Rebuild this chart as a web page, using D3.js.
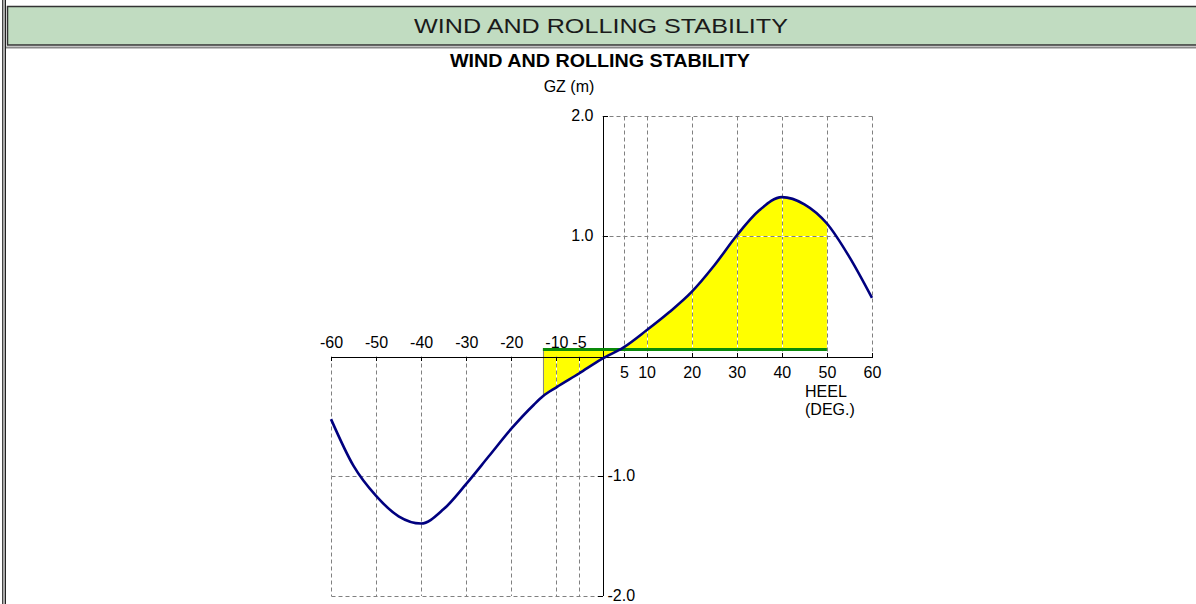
<!DOCTYPE html>
<html>
<head>
<meta charset="utf-8">
<script src="https://cdn.jsdelivr.net/npm/d3@7/dist/d3.min.js"></script>
<style>
  html, body { margin: 0; padding: 0; background: #ffffff; }
  svg { display: block; }
  text { font-family: "Liberation Sans", Arial, sans-serif; }
</style>
</head>
<body>
<svg id="chart" width="1196" height="604"></svg>
<script>
// Heel angles (deg) and righting lever GZ (m)
const heelAngles = [-60, -55, -50, -45, -40, -35, -30, -25, -20, -15, -13, -10, -5, 0, 5, 10, 15, 20, 25, 30, 35, 40, 45, 50, 55, 60];
const gzValues   = [-0.53, -0.92, -1.17, -1.34, -1.40, -1.28, -1.07, -0.84, -0.61, -0.41, -0.34, -0.265, -0.15, -0.03, 0.07, 0.21, 0.36, 0.53, 0.75, 1.00, 1.21, 1.32, 1.26, 1.10, 0.82, 0.48];

// Wind heeling lever and the heel range it acts over
const windLever = 0.05;
const windRange = [-13, 50];

// Axis ticks
const xTicksNeg = [-60, -50, -40, -30, -20, -10, -5];
const xTicksPos = [5, 10, 20, 30, 40, 50, 60];
const yTicksPos = [1, 2];
const yTicksNeg = [-1, -2];

const mainTitle = "WIND AND ROLLING STABILITY";
const chartTitle = "WIND AND ROLLING STABILITY";
const yAxisTitle = "GZ (m)";
const xAxisTitle = ["HEEL", "(DEG.)"];

const svg = d3.select("#chart");
const W = 1196, H = 604;

// ---- window frame and header band ----
svg.append("rect").attr("x", 2).attr("y", 0).attr("width", 4).attr("height", H).attr("fill", "#a9a9a9");
svg.append("line").attr("x1", 2.5).attr("x2", 2.5).attr("y1", 0).attr("y2", H).attr("stroke", "#444").attr("stroke-width", 1);
svg.append("line").attr("x1", 5.5).attr("x2", 5.5).attr("y1", 0).attr("y2", H).attr("stroke", "#222").attr("stroke-width", 1);
svg.append("rect").attr("x", 7.5).attr("y", 6.5).attr("width", W).attr("height", 38.5)
  .attr("fill", "#c1dcc1").attr("stroke", "#333").attr("stroke-width", 1.5);
svg.append("line").attr("x1", 6).attr("x2", W).attr("y1", 47.5).attr("y2", 47.5).attr("stroke", "#8a8a8a").attr("stroke-width", 2);
svg.append("text").attr("x", 601).attr("y", 33).attr("text-anchor", "middle")
  .attr("font-size", 21).attr("fill", "#1a1a1a")
  .attr("textLength", 374).attr("lengthAdjust", "spacingAndGlyphs")
  .text(mainTitle);

// ---- scales ----
const x = d3.scaleLinear().domain([-60, 60]).range([331, 872]);
const y = d3.scaleLinear().domain([-2, 2]).range([595.5, 115.5]);
const px = v => Math.round(x(v)) + 0.5;
const py = v => Math.round(y(v)) + 0.5;

const data = heelAngles.map((a, i) => ({ a, gz: gzValues[i] }));

// ---- wind/rolling energy area (between heeling lever and GZ curve) ----
const areaData = data.filter(d => d.a >= windRange[0] && d.a <= windRange[1]);
const area = d3.area()
  .x(d => x(d.a))
  .y0(() => y(windLever))
  .y1(d => y(d.gz))
  .curve(d3.curveMonotoneX);
svg.append("path").datum(areaData).attr("d", area).attr("fill", "#ffff00").attr("stroke", "none");

// left edge of the area
const startGz = gzValues[heelAngles.indexOf(windRange[0])];
svg.append("line")
  .attr("x1", px(windRange[0])).attr("x2", px(windRange[0]))
  .attr("y1", y(windLever)).attr("y2", y(startGz))
  .attr("stroke", "#888").attr("stroke-width", 1);

// ---- grid (dashes with white gaps) ----
const grid = svg.append("g");
function gridLine(x1, y1, x2, y2) {
  grid.append("line").attr("x1", x1).attr("y1", y1).attr("x2", x2).attr("y2", y2)
    .attr("stroke", "#ffffff").attr("stroke-width", 1);
  grid.append("line").attr("x1", x1).attr("y1", y1).attr("x2", x2).attr("y2", y2)
    .attr("stroke", "#808080").attr("stroke-width", 1).attr("stroke-dasharray", "4,3");
}
xTicksPos.forEach(v => gridLine(px(v), py(2), px(v), py(0)));
xTicksNeg.forEach(v => gridLine(px(v), py(0), px(v), py(-2)));
yTicksPos.forEach(v => gridLine(px(0), py(v), px(60), py(v)));
yTicksNeg.forEach(v => gridLine(px(-60), py(v), px(0), py(v)));

// ---- axes ----
const fontSize = 16;
function styleAxis(g) {
  g.attr("font-family", null).attr("font-size", null);
  g.selectAll("text").attr("font-size", fontSize).attr("fill", "#000")
    .attr("font-family", "'Liberation Sans', Arial, sans-serif");
  g.selectAll("line, path").attr("stroke", "#000").attr("shape-rendering", "crispEdges");
}

const xAxisNeg = d3.axisTop(x).tickValues(xTicksNeg).tickFormat(d => String(d))
  .tickSizeInner(-4).tickSizeOuter(0).tickPadding(9);
const xAxisPos = d3.axisBottom(x).tickValues(xTicksPos).tickFormat(d => String(d))
  .tickSizeInner(-4).tickSizeOuter(0).tickPadding(10);

const gxNeg = svg.append("g").attr("transform", `translate(0,${py(0)})`).call(xAxisNeg).call(styleAxis);
const gxPos = svg.append("g").attr("transform", `translate(0,${py(0)})`).call(xAxisPos).call(styleAxis);
gxPos.select(".domain").remove();

const fmtY = d => d.toFixed(1);
const yAxisPos = d3.axisLeft(y).tickValues(yTicksPos).tickFormat(fmtY)
  .tickSizeInner(-5).tickSizeOuter(0).tickPadding(9);
const yAxisNeg = d3.axisRight(y).tickValues(yTicksNeg).tickFormat(fmtY)
  .tickSizeInner(-5).tickSizeOuter(0).tickPadding(5);
const gyPos = svg.append("g").attr("transform", `translate(${px(0)},0)`).call(yAxisPos).call(styleAxis);
const gyNeg = svg.append("g").attr("transform", `translate(${px(0)},0)`).call(yAxisNeg).call(styleAxis);
gyNeg.select(".domain").remove();

// ---- wind heeling lever ----
svg.append("line")
  .attr("x1", x(windRange[0])).attr("x2", x(windRange[1]))
  .attr("y1", y(windLever)).attr("y2", y(windLever))
  .attr("stroke", "#0a8a0a").attr("stroke-width", 3);

// ---- GZ curve ----
const line = d3.line().x(d => x(d.a)).y(d => y(d.gz)).curve(d3.curveMonotoneX);
svg.append("path").datum(data).attr("d", line)
  .attr("fill", "none").attr("stroke", "#00007f").attr("stroke-width", 2.6)
  .attr("stroke-linejoin", "round");

// ---- titles ----
svg.append("text").attr("x", 600).attr("y", 67).attr("text-anchor", "middle")
  .attr("font-size", 18).attr("font-weight", "bold").attr("fill", "#000")
  .attr("textLength", 300).attr("lengthAdjust", "spacingAndGlyphs")
  .text(chartTitle);
svg.append("text").attr("x", 569).attr("y", 92).attr("text-anchor", "middle")
  .attr("font-size", fontSize).attr("fill", "#000").text(yAxisTitle);
svg.append("text").attr("x", 805).attr("y", 397)
  .attr("font-size", fontSize).attr("fill", "#000").text(xAxisTitle[0]);
svg.append("text").attr("x", 805).attr("y", 415)
  .attr("font-size", fontSize).attr("fill", "#000").text(xAxisTitle[1]);
</script>
</body>
</html>
